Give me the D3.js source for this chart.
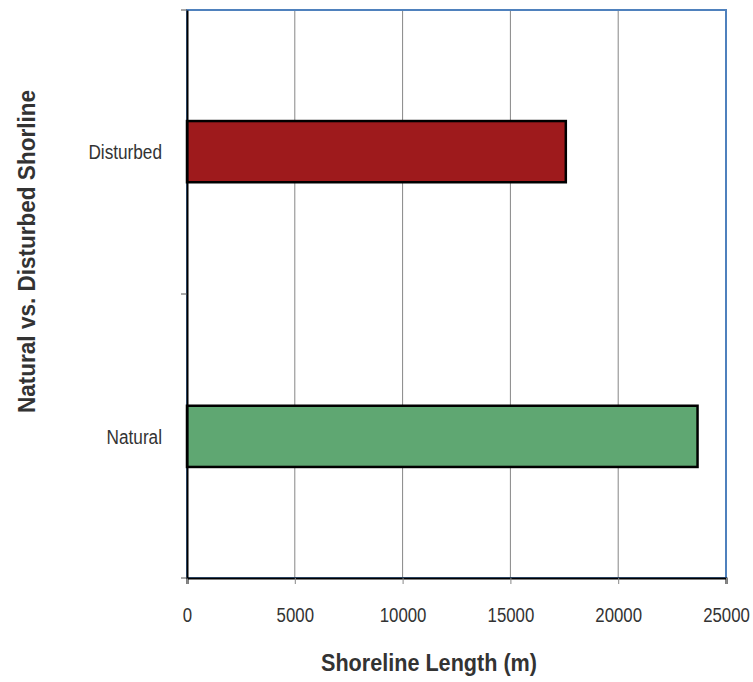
<!DOCTYPE html>
<html><head><meta charset="utf-8">
<script src="https://cdn.jsdelivr.net/npm/d3@7"></script>
<style>
body{margin:0;background:#fff;}
text{font-family:"Liberation Sans",Arial,sans-serif;}
</style></head>
<body><svg id="c" width="753" height="682"></svg>
<script>
const categories = ["Disturbed", "Natural"];
const values = [17570, 23680];
const colors = ["#9e1a1c", "#5fa772"];
const xTicks = [0, 5000, 10000, 15000, 20000, 25000];
const xTitle = "Shoreline Length (m)";
const yTitle = "Natural vs. Disturbed Shorline";

const svg = d3.select("#c");
const L = 187, R = 726, T = 10, B = 578;
const x = d3.scaleLinear().domain([0, 25000]).range([L, R]);
const y = d3.scaleBand().domain(categories).range([T, B]).paddingInner(0.785).paddingOuter(0.39);

function narrow(sel, k) {
  sel.each(function () {
    const w = this.getComputedTextLength();
    d3.select(this).attr("textLength", w * k).attr("lengthAdjust", "spacingAndGlyphs");
  });
}

// grid
svg.append("g").selectAll("line").data(xTicks.slice(1, -1)).join("line")
  .attr("x1", d => x(d)).attr("x2", d => x(d)).attr("y1", T).attr("y2", B)
  .attr("stroke", "#868686").attr("stroke-width", 1);

// plot border blue
svg.append("rect").attr("x", L).attr("y", T).attr("width", R - L).attr("height", B - T)
  .attr("fill", "none").attr("stroke", "#4f81bd").attr("stroke-width", 2);

// bars
svg.append("g").selectAll("rect").data(categories).join("rect")
  .attr("x", x(0)).attr("y", d => y(d))
  .attr("width", (d, i) => x(values[i]) - x(0)).attr("height", y.bandwidth())
  .attr("fill", (d, i) => colors[i]).attr("stroke", "#000").attr("stroke-width", 2.5);

// x axis
const xa = svg.append("g").attr("transform", `translate(0,${B})`)
  .call(d3.axisBottom(x).tickValues(xTicks).tickFormat(d3.format("d")).tickSize(6).tickPadding(0));
xa.select(".domain").attr("stroke", "#000").attr("stroke-width", 2);
xa.selectAll(".tick line").attr("stroke", "#888");
xa.selectAll("text").attr("font-size", 20).attr("fill", "#333").attr("y", 44).attr("dy", null);
narrow(xa.selectAll("text"), 0.84);

// y axis
const ya = svg.append("g").attr("transform", `translate(${L},0)`)
  .call(d3.axisLeft(y).tickSize(0).tickPadding(25));
ya.select(".domain").attr("stroke", "#000").attr("stroke-width", 2);
ya.selectAll("text").attr("font-size", 20).attr("fill", "#333").attr("dy", "0.36em");
narrow(ya.selectAll("text"), 0.86);
// y boundary ticks
const yb = [T, (T + B) / 2, B];
svg.append("g").selectAll("line").data(yb).join("line")
  .attr("x1", L - 6).attr("x2", L).attr("y1", d => d).attr("y2", d => d)
  .attr("stroke", "#555").attr("stroke-width", 1);

svg.append("text").attr("x", 429).attr("y", 671).attr("text-anchor", "middle")
  .attr("font-size", 23).attr("font-weight", "bold").attr("fill", "#333")
  .attr("textLength", 216).attr("lengthAdjust", "spacingAndGlyphs").text(xTitle);
svg.append("text").attr("transform", `translate(35,251.5) rotate(-90)`)
  .attr("text-anchor", "middle").attr("font-size", 23).attr("font-weight", "bold").attr("fill", "#333")
  .attr("textLength", 323).attr("lengthAdjust", "spacingAndGlyphs").text(yTitle);
</script></body></html>
